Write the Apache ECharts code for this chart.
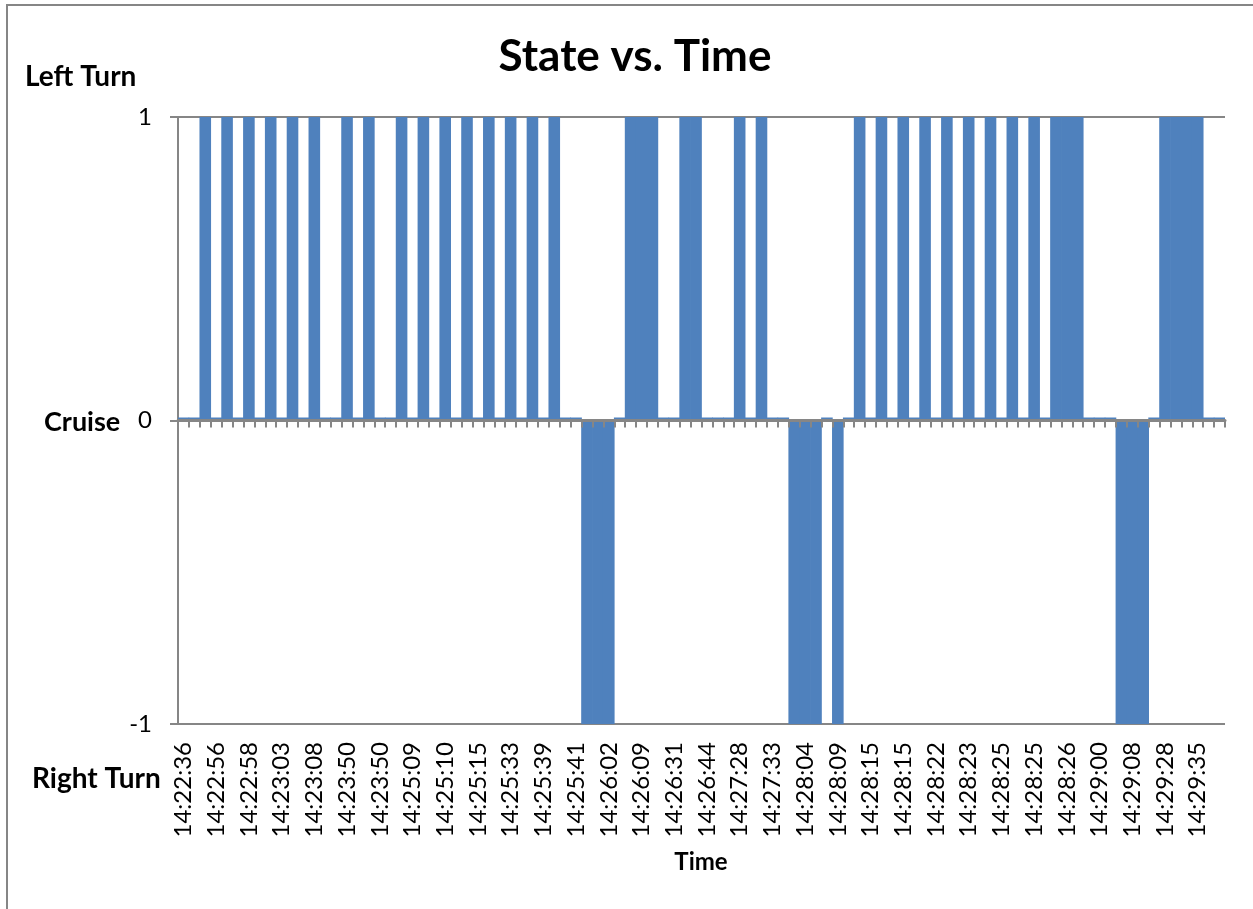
<!DOCTYPE html>
<html>
<head>
<meta charset="utf-8">
<script src="https://cdn.jsdelivr.net/npm/echarts@6/dist/echarts.min.js"></script>
<style>
  html, body { margin: 0; padding: 0; background: #fff; }
  #main { width: 1253px; height: 909px; }
</style>
</head>
<body>
<div id="main"></div>
<script>
// labels shown under every third sample
var tickLabels = ['14:22:36','14:22:56','14:22:58','14:23:03','14:23:08','14:23:50','14:23:50','14:25:09',
  '14:25:10','14:25:15','14:25:33','14:25:39','14:25:41','14:26:02','14:26:09','14:26:31',
  '14:26:44','14:27:28','14:27:33','14:28:04','14:28:09','14:28:15','14:28:15','14:28:22',
  '14:28:23','14:28:25','14:28:25','14:28:26','14:29:00','14:29:08','14:29:28','14:29:35'];

// 1 = left turn, 0 = cruise, -1 = right turn
var states = [0,0,1,0,1,0,1,0,1,0,1,0,1,0,0,1,0,1,0,0,1,0,1,0,1,0,1,0,1,0,1,0,1,0,1,0,
  0,-1,-1,-1,0,1,1,1,0,0,1,1,0,0,0,1,0,1,0,0,-1,-1,-1,0,-1,0,
  1,0,1,0,1,0,1,0,1,0,1,0,1,0,1,0,1,0,1,1,1,0,0,0,-1,-1,-1,0,1,1,1,1,0,0];

var yTicks = [-1, 0, 1];

var categories = states.map(function (v, i) {
    return i % 3 === 0 ? tickLabels[i / 3] : '';
});

var gray = '#868686';
var font = 'Lato, "Noto Sans", sans-serif';

var chart = echarts.init(document.getElementById('main'));
chart.setOption({
    animation: false,
    title: {
        text: 'State vs. Time',
        left: 630,
        top: 30,
        textAlign: 'center',
        textStyle: { fontFamily: font, fontWeight: 'bold', fontSize: 44, color: '#000' }
    },
    grid: { left: 178, right: 28, top: 117, bottom: 185 },
    xAxis: [{
        type: 'category',
        data: categories,
        position: 'bottom',
        axisLine: { show: false, onZero: false },
        axisTick: { show: false },
        axisLabel: {
            interval: 2,
            rotate: 90,
            margin: 18,
            fontFamily: font,
            fontSize: 24,
            color: '#000'
        }
    }, {
        // the category line that runs along 0
        type: 'category',
        data: categories,
        position: 'top',
        z: 3,
        axisLine: { show: true, onZero: true, lineStyle: { color: gray, width: 3 } },
        axisTick: { show: true, inside: true, interval: 0, length: 7, lineStyle: { color: gray, width: 2 } },
        axisLabel: { show: false }
    }],
    yAxis: {
        type: 'value',
        min: yTicks[0],
        max: yTicks[yTicks.length - 1],
        interval: 1,
        axisLine: { show: true, onZero: false, lineStyle: { color: gray, width: 2 } },
        axisTick: { show: true, length: 8, lineStyle: { color: gray, width: 2 } },
        splitLine: { show: true, lineStyle: { color: gray, width: 2 } },
        axisLabel: { margin: 26, fontFamily: font, fontSize: 24, color: '#000' }
    },
    series: [{
        type: 'bar',
        xAxisIndex: 0,
        data: states,
        barWidth: 11.6,
        barMinHeight: 3,
        itemStyle: { color: '#4F81BD' }
    }],
    graphic: [{
        type: 'rect',
        silent: true,
        shape: { x: 7, y: 5, width: 1400, height: 1000 },
        style: { fill: 'none', stroke: gray, lineWidth: 2 }
    }, {
        type: 'text', x: 25, y: 77,
        style: { text: 'Left Turn', font: 'bold 28px ' + font, fill: '#000', textVerticalAlign: 'middle' }
    }, {
        type: 'text', x: 44, y: 422,
        style: { text: 'Cruise', font: 'bold 27px ' + font, fill: '#000', textVerticalAlign: 'middle' }
    }, {
        type: 'text', x: 32, y: 779,
        style: { text: 'Right Turn', font: 'bold 28px ' + font, fill: '#000', textVerticalAlign: 'middle' }
    }, {
        type: 'text', x: 701, y: 862,
        style: { text: 'Time', font: 'bold 24px ' + font, fill: '#000', textAlign: 'center', textVerticalAlign: 'middle' }
    }]
});
</script>
</body>
</html>
